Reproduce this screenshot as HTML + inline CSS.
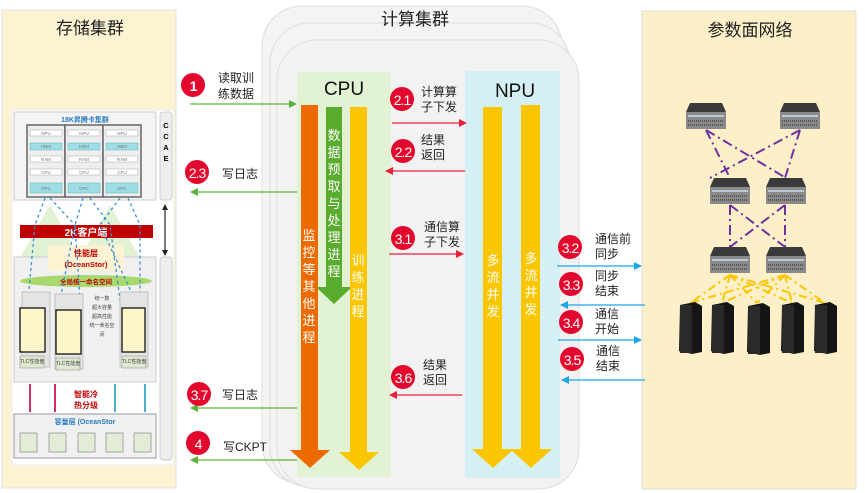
<!DOCTYPE html>
<html><head><meta charset="utf-8"><style>
body{margin:0;background:#fff;}
svg{display:block;font-family:"Liberation Sans","Noto Sans CJK SC",sans-serif;}
</style></head><body>
<svg width="865" height="493" viewBox="0 0 865 493" xmlns="http://www.w3.org/2000/svg">
<defs>
<marker id="ag" markerWidth="8" markerHeight="8" refX="7" refY="4" orient="auto" markerUnits="userSpaceOnUse"><path d="M0,0 L8,4 L0,8z" fill="#5bb33a"/></marker>
<marker id="ar" markerWidth="8" markerHeight="8" refX="7" refY="4" orient="auto" markerUnits="userSpaceOnUse"><path d="M0,0 L8,4 L0,8z" fill="#e8203b"/></marker>
<marker id="ab" markerWidth="8" markerHeight="8" refX="7" refY="4" orient="auto" markerUnits="userSpaceOnUse"><path d="M0,0 L8,4 L0,8z" fill="#1aa7e8"/></marker>
</defs>
<!-- left panel -->
<rect x="2" y="10" width="174" height="478" fill="#fdf3d3" stroke="#e0e0e0"/>
<text x="90" y="34" font-size="17" text-anchor="middle" fill="#222">存储集群</text>
<rect x="12" y="110" width="162" height="355" fill="#fff" stroke="#eee"/>
<rect x="14" y="112" width="142" height="88" fill="#f4f4f4" stroke="#ccc"/>
<text x="85" y="122" font-size="7" font-weight="bold" text-anchor="middle" fill="#2a7bc0">18K昇腾卡集群</text>
<g stroke="#666" stroke-width="1.5" fill="#eee">
<rect x="27" y="125" width="38" height="72"/><rect x="65" y="125" width="38" height="72"/><rect x="103" y="125" width="38" height="72"/>
</g>
<g font-size="4.5" fill="#777" text-anchor="middle">
<g fill="#fff" stroke="#aaa" stroke-width="0.5">
<rect x="30" y="130" width="32" height="6"/><rect x="68" y="130" width="32" height="6"/><rect x="106" y="130" width="32" height="6"/>
<rect x="30" y="156" width="32" height="6"/><rect x="68" y="156" width="32" height="6"/><rect x="106" y="156" width="32" height="6"/>
<rect x="30" y="169" width="32" height="6"/><rect x="68" y="169" width="32" height="6"/><rect x="106" y="169" width="32" height="6"/>
</g>
<g fill="#9fdde6" stroke="#5bb" stroke-width="0.5">
<rect x="30" y="143" width="32" height="7"/><rect x="68" y="143" width="32" height="7"/><rect x="106" y="143" width="32" height="7"/>
<rect x="30" y="183" width="32" height="10"/><rect x="68" y="183" width="32" height="10"/><rect x="106" y="183" width="32" height="10"/>
</g>
<text x="46" y="135">NPU</text><text x="84" y="135">NPU</text><text x="122" y="135">NPU</text>
<text x="46" y="148">HBM</text><text x="84" y="148">HBM</text><text x="122" y="148">HBM</text>
<text x="46" y="161">RAM</text><text x="84" y="161">RAM</text><text x="122" y="161">RAM</text>
<text x="46" y="174">CPU</text><text x="84" y="174">CPU</text><text x="122" y="174">CPU</text>
<text x="46" y="190">DPC</text><text x="84" y="190">DPC</text><text x="122" y="190">DPC</text>
</g>
<rect x="160" y="112" width="12" height="88" rx="3" fill="#eee" stroke="#ccc"/>
<text x="166" y="128" font-size="7.5" font-weight="bold" text-anchor="middle">C</text>
<text x="166" y="139" font-size="7.5" font-weight="bold" text-anchor="middle">C</text>
<text x="166" y="150" font-size="7.5" font-weight="bold" text-anchor="middle">A</text>
<text x="166" y="161" font-size="7.5" font-weight="bold" text-anchor="middle">E</text>
<rect x="160" y="257" width="12" height="203" rx="3" fill="#eee" stroke="#ccc"/>
<line x1="165" y1="206" x2="165" y2="254" stroke="#222" stroke-width="1.2"/>
<path d="M162,210 L165,204 L168,210z M162,250 L165,256 L168,250z" fill="#222"/>
<polygon points="20,258 50,205 80,258" fill="#d8efc8" opacity="0.8"/>
<polygon points="80,258 110,205 140,258" fill="#d8efc8" opacity="0.8"/>
<rect x="20" y="225" width="133" height="13" fill="#c00000"/>
<text x="86" y="236" font-size="10" font-weight="bold" fill="#fff" text-anchor="middle">2K客户端</text>
<rect x="14" y="257" width="142" height="125" fill="#f0f0f0" stroke="#ccc"/>
<rect x="48" y="245" width="76" height="26" fill="#fdf3d3"/>
<text x="86" y="256" font-size="8" font-weight="bold" fill="#c00000" text-anchor="middle">性能层</text>
<text x="86" y="267" font-size="7.5" font-weight="bold" fill="#c00000" text-anchor="middle">(OceanStor)</text>
<ellipse cx="86" cy="281" rx="66" ry="6" fill="#a8d86e"/>
<text x="86" y="284" font-size="6.5" font-weight="bold" fill="#c00000" text-anchor="middle">全局统一命名空间</text>
<g stroke="#3a8fd8" stroke-width="1.3" stroke-dasharray="3,3" fill="none">
<path d="M45,198 L35,225 L28,300"/><path d="M50,198 L75,225 L60,300"/><path d="M83,198 L75,225 L80,300"/><path d="M90,198 L110,225 L120,300"/><path d="M120,198 L100,225 L135,300"/><path d="M128,198 L140,225 L140,300"/>
</g>
<g fill="#e4e4e4" stroke="#999" stroke-width="0.5">
<rect x="22" y="292" width="28" height="75"/><rect x="55" y="294" width="28" height="75"/><rect x="120" y="292" width="28" height="75"/>
</g>
<g fill="#fdf6c8" stroke="#111" stroke-width="1.3">
<rect x="20" y="308" width="25" height="44"/><rect x="56" y="310" width="25" height="44"/><rect x="122" y="308" width="23" height="44"/>
</g>
<g fill="#dfe8d0" stroke="#888" stroke-width="0.5"><rect x="20" y="356" width="24" height="12"/><rect x="56" y="358" width="24" height="12"/><rect x="122" y="356" width="24" height="12"/></g>
<g font-size="5" fill="#444" text-anchor="middle"><text x="32" y="363">TLC性能盘</text><text x="68" y="365">TLC性能盘</text><text x="134" y="363">TLC性能盘</text>
<text x="102" y="300">统一数</text><text x="102" y="309">超大容量</text><text x="102" y="318">超高性能</text><text x="102" y="327">统一命名空</text><text x="102" y="336">间</text></g>
<g stroke-width="2"><line x1="30" y1="384" x2="30" y2="412" stroke="#d03060"/><line x1="55" y1="384" x2="55" y2="412" stroke="#d03060"/><line x1="115" y1="384" x2="115" y2="412" stroke="#4ab0c8"/><line x1="145" y1="384" x2="145" y2="412" stroke="#4ab0c8"/></g>
<text x="86" y="397" font-size="8" font-weight="bold" fill="#c00000" text-anchor="middle">智能冷</text>
<text x="86" y="408" font-size="8" font-weight="bold" fill="#c00000" text-anchor="middle">热分级</text>
<rect x="14" y="414" width="142" height="44" fill="#f0f0f0" stroke="#999"/>
<text x="85" y="424" font-size="7" font-weight="bold" fill="#2a7bc0" text-anchor="middle">容量层 (OceanStor</text>
<g fill="#e2ecd6" stroke="#777" stroke-width="0.6"><rect x="20" y="433" width="17" height="19"/><rect x="49" y="433" width="17" height="19"/><rect x="78" y="433" width="17" height="19"/><rect x="106" y="433" width="17" height="19"/><rect x="134" y="433" width="17" height="19"/></g>

<!-- compute cluster -->
<rect x="262" y="6" width="300" height="478" rx="40" fill="#f4f4f4" stroke="#ddd"/>
<rect x="270" y="23" width="300" height="464" rx="40" fill="#f4f4f4" stroke="#ddd"/>
<rect x="277" y="40" width="302" height="449" rx="40" fill="#f2f2f2" stroke="#ddd"/>
<text x="415" y="25" font-size="17" text-anchor="middle" fill="#222">计算集群</text>
<rect x="297" y="72" width="94" height="405" fill="#e2f2d4"/>
<text x="344" y="95" font-size="19" text-anchor="middle" fill="#111">CPU</text>
<rect x="465" y="71" width="95" height="407" fill="#d5f0f4"/>
<text x="515" y="97" font-size="19" text-anchor="middle" fill="#111">NPU</text>
<path d="M301,105 h17 v345 h12 l-20,18 l-20,-18 h11z" fill="#ec6a00"/>
<path d="M326,107 h16 v180 h10 l-18,17 l-18,-17 h10z" fill="#5aac2f"/>
<path d="M350,107 h17 v345 h12 l-20,18 l-20,-18 h11z" fill="#fbc600"/>
<path d="M483,107 h19 v342 h12 l-21,19 l-21,-19 h11z" fill="#fbc600"/>
<path d="M521,105 h19 v344 h12 l-21,19 l-21,-19 h11z" fill="#fbc600"/>
<g font-size="13" fill="#fff" text-anchor="middle">
<text x="309" y="240">监</text><text x="309" y="257">控</text><text x="309" y="274">等</text><text x="309" y="291">其</text><text x="309" y="308">他</text><text x="309" y="325">进</text><text x="309" y="342">程</text>
<text x="334" y="140">数</text><text x="334" y="157">据</text><text x="334" y="174">预</text><text x="334" y="191">取</text><text x="334" y="208">与</text><text x="334" y="225">处</text><text x="334" y="242">理</text><text x="334" y="259">进</text><text x="334" y="276">程</text>
<text x="358" y="265">训</text><text x="358" y="282">练</text><text x="358" y="299">进</text><text x="358" y="316">程</text>
<text x="493" y="265">多</text><text x="493" y="282">流</text><text x="493" y="299">并</text><text x="493" y="316">发</text>
<text x="531" y="263">多</text><text x="531" y="280">流</text><text x="531" y="297">并</text><text x="531" y="314">发</text>
</g>

<!-- right panel -->
<rect x="642" y="11" width="214" height="478" fill="#fdf0c8" stroke="#ddd"/>
<text x="750" y="36" font-size="17" text-anchor="middle" fill="#222">参数面网络</text>
<g stroke="#7030a0" stroke-width="2" stroke-dasharray="10,4,2,4" fill="none">
<line x1="706" y1="130" x2="730" y2="178"/><line x1="800" y1="130" x2="710" y2="178"/>
<line x1="706" y1="130" x2="786" y2="178"/><line x1="800" y1="130" x2="785" y2="178"/>
<line x1="730" y1="205" x2="730" y2="247"/><line x1="785" y1="205" x2="785" y2="247"/>
<line x1="730" y1="205" x2="785" y2="247"/><line x1="785" y1="205" x2="730" y2="247"/>
</g>
<g stroke="#fbc600" stroke-width="2" stroke-dasharray="8,4,2,4" fill="none">
<path d="M730,275 L690,303 M730,275 L722,303 M730,275 L757,303 M730,275 L792,303 M730,275 L825,303 M785,275 L690,303 M785,275 L722,303 M785,275 L757,303 M785,275 L792,303 M785,275 L825,303"/>
</g>
<g id="sw">
<polygon points="690,103 722,103 726,112 686,112" fill="#3a3a3a"/>
<rect x="686" y="112" width="40" height="17" fill="#8a8a8a"/>
<line x1="688" y1="116" x2="724" y2="116" stroke="#cde" stroke-width="1.5"/>
<line x1="688" y1="121" x2="724" y2="121" stroke="#444" stroke-width="1.5" stroke-dasharray="1,1"/>
<line x1="688" y1="125" x2="724" y2="125" stroke="#444" stroke-width="1.5" stroke-dasharray="1,1"/>
</g>
<use href="#sw" x="94" y="0"/>
<use href="#sw" x="24" y="75"/><use href="#sw" x="80" y="75"/>
<use href="#sw" x="24" y="144"/><use href="#sw" x="80" y="144"/>
<g id="srv"><polygon points="680,305 695,302 702,306 702,352 692,354 679,351" fill="#151515"/><rect x="680" y="305" width="12" height="48" fill="#2a2a2a"/></g>
<use href="#srv" x="32" y="0"/><use href="#srv" x="68" y="1"/><use href="#srv" x="102" y="0"/><use href="#srv" x="135" y="0"/>

<!-- arrows -->
<g stroke-width="1.3" fill="none">
<line x1="190" y1="104" x2="296" y2="104" stroke="#5bb33a" marker-end="url(#ag)"/>
<line x1="297" y1="192" x2="191" y2="192" stroke="#5bb33a" marker-end="url(#ag)"/>
<line x1="297" y1="408" x2="191" y2="408" stroke="#5bb33a" marker-end="url(#ag)"/>
<line x1="297" y1="460" x2="191" y2="460" stroke="#5bb33a" marker-end="url(#ag)"/>
<line x1="392" y1="123" x2="466" y2="123" stroke="#e8203b" marker-end="url(#ar)"/>
<line x1="465" y1="171" x2="386" y2="171" stroke="#e8203b" marker-end="url(#ar)"/>
<line x1="389" y1="254" x2="463" y2="254" stroke="#e8203b" marker-end="url(#ar)"/>
<line x1="462" y1="395" x2="390" y2="395" stroke="#e8203b" marker-end="url(#ar)"/>
<line x1="557" y1="266" x2="641" y2="266" stroke="#1aa7e8" marker-end="url(#ab)"/>
<line x1="645" y1="305" x2="561" y2="305" stroke="#1aa7e8" marker-end="url(#ab)"/>
<line x1="558" y1="340" x2="641" y2="340" stroke="#1aa7e8" marker-end="url(#ab)"/>
<line x1="645" y1="380" x2="562" y2="380" stroke="#1aa7e8" marker-end="url(#ab)"/>
</g>
<g fill="#e3072d">
<circle cx="193" cy="85" r="12"/><circle cx="402" cy="99" r="12"/><circle cx="403" cy="151" r="12"/><circle cx="197" cy="172" r="12"/>
<circle cx="403" cy="238" r="12"/><circle cx="570" cy="247" r="12"/><circle cx="571" cy="284" r="12"/><circle cx="571" cy="322" r="12"/>
<circle cx="572" cy="359" r="12"/><circle cx="403" cy="377" r="12"/><circle cx="199" cy="394" r="12"/><circle cx="198" cy="443" r="12"/>
</g>
<g fill="#fff" font-size="14" text-anchor="middle" letter-spacing="-1">
<text x="193" y="91" font-weight="bold">1</text><text x="402" y="105">2.1</text><text x="403" y="157">2.2</text><text x="197" y="178">2.3</text>
<text x="403" y="244">3.1</text><text x="570" y="253">3.2</text><text x="571" y="290">3.3</text><text x="571" y="328">3.4</text>
<text x="572" y="365">3.5</text><text x="403" y="383">3.6</text><text x="199" y="400">3.7</text><text x="198" y="449">4</text>
</g>
<g font-size="12" fill="#222">
<text x="218" y="82">读取训</text><text x="218" y="98">练数据</text>
<text x="222" y="178">写日志</text><text x="222" y="399">写日志</text><text x="223" y="451">写CKPT</text>
<text x="421" y="96">计算算</text><text x="421" y="111">子下发</text>
<text x="421" y="144">结果</text><text x="421" y="159">返回</text>
<text x="424" y="231">通信算</text><text x="424" y="246">子下发</text>
<text x="423" y="369">结果</text><text x="423" y="384">返回</text>
<text x="595" y="243">通信前</text><text x="595" y="258">同步</text>
<text x="595" y="280">同步</text><text x="595" y="295">结束</text>
<text x="595" y="318">通信</text><text x="595" y="333">开始</text>
<text x="596" y="355">通信</text><text x="596" y="370">结束</text>
</g>
</svg>
</body></html>
